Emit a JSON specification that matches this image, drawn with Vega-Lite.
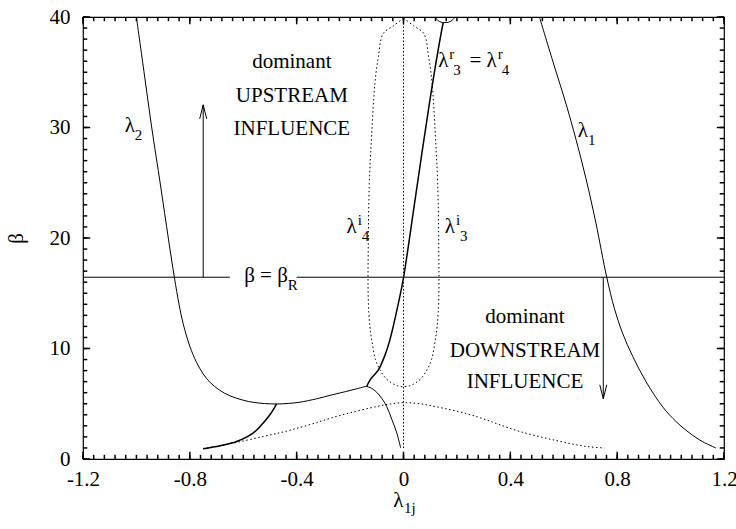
{
  "$schema": "https://vega.github.io/schema/vega-lite/v6.json",
  "width": 641,
  "height": 442,
  "autosize": {"type": "none"},
  "padding": {"left": 83, "top": 17, "right": 12, "bottom": 70},
  "background": "white",
  "config": {
    "view": {"stroke": "black", "strokeWidth": 1.2},
    "font": "Liberation Serif",
    "axis": {
      "labelFont": "Liberation Serif",
      "titleFont": "Liberation Serif",
      "labelColor": "black",
      "titleColor": "black",
      "ticks": false,
      "grid": false,
      "domain": false,
      "labelFlush": false,
      "labelOverlap": false,
      "labelBound": false,
      "titleFontWeight": "normal",
      "titlePadding": 0
    }
  },
  "resolve": {"axis": {"x": "independent", "y": "independent"}},
  "datasets": {
    "thin": [
      {"s": "l2", "x": -1.0, "y": 40},
      {"s": "l2", "x": -0.97, "y": 34.75},
      {"s": "l2", "x": -0.943, "y": 30.05},
      {"s": "l2", "x": -0.91, "y": 24.8},
      {"s": "l2", "x": -0.88, "y": 19.9},
      {"s": "l2", "x": -0.858, "y": 16.45},
      {"s": "l2", "x": -0.84, "y": 13.95},
      {"s": "l2", "x": -0.825, "y": 12.25},
      {"s": "l2", "x": -0.8, "y": 10.2},
      {"s": "l2", "x": -0.775, "y": 8.75},
      {"s": "l2", "x": -0.75, "y": 7.7},
      {"s": "l2", "x": -0.725, "y": 6.95},
      {"s": "l2", "x": -0.69, "y": 6.25},
      {"s": "l2", "x": -0.65, "y": 5.72},
      {"s": "l2", "x": -0.6, "y": 5.32},
      {"s": "l2", "x": -0.563, "y": 5.13},
      {"s": "l2", "x": -0.52, "y": 5.02},
      {"s": "l2", "x": -0.475, "y": 4.98},
      {"s": "l2", "x": -0.43, "y": 5.03},
      {"s": "l2", "x": -0.388, "y": 5.14},
      {"s": "l2", "x": -0.325, "y": 5.45},
      {"s": "l2", "x": -0.275, "y": 5.76},
      {"s": "l2", "x": -0.2, "y": 6.2},
      {"s": "l2", "x": -0.16, "y": 6.45},
      {"s": "l2", "x": -0.138, "y": 6.56},
      {"s": "l2", "x": -0.113, "y": 6.3},
      {"s": "l2", "x": -0.088, "y": 5.7},
      {"s": "l2", "x": -0.063, "y": 4.75},
      {"s": "l2", "x": -0.044, "y": 3.6},
      {"s": "l2", "x": -0.025, "y": 2.35},
      {"s": "l2", "x": -0.0105, "y": 0.99},
      {"s": "l1", "x": 0.509, "y": 40},
      {"s": "l1", "x": 0.559, "y": 36.0},
      {"s": "l1", "x": 0.609, "y": 32.1},
      {"s": "l1", "x": 0.646, "y": 28.9},
      {"s": "l1", "x": 0.683, "y": 25.4},
      {"s": "l1", "x": 0.72, "y": 21.4},
      {"s": "l1", "x": 0.761, "y": 16.44},
      {"s": "l1", "x": 0.79, "y": 13.6},
      {"s": "l1", "x": 0.82, "y": 11.4},
      {"s": "l1", "x": 0.858, "y": 9.3},
      {"s": "l1", "x": 0.908, "y": 7.0},
      {"s": "l1", "x": 0.971, "y": 4.7},
      {"s": "l1", "x": 1.02, "y": 3.4},
      {"s": "l1", "x": 1.058, "y": 2.6},
      {"s": "l1", "x": 1.11, "y": 1.7},
      {"s": "l1", "x": 1.17, "y": 0.99},
      {"s": "arc", "x": 0.118, "y": 40},
      {"s": "arc", "x": 0.128, "y": 39.7},
      {"s": "arc", "x": 0.142, "y": 39.52},
      {"s": "arc", "x": 0.155, "y": 39.5},
      {"s": "arc", "x": 0.168, "y": 39.52},
      {"s": "arc", "x": 0.182, "y": 39.7},
      {"s": "arc", "x": 0.193, "y": 40},
      {"s": "betaR_left", "x": -1.2, "y": 16.45},
      {"s": "betaR_left", "x": -0.65, "y": 16.45},
      {"s": "betaR_right", "x": -0.4, "y": 16.45},
      {"s": "betaR_right", "x": 1.2, "y": 16.45},
      {"s": "arrow_up", "x": -0.75, "y": 16.45},
      {"s": "arrow_up", "x": -0.75, "y": 32.05},
      {"s": "arrow_down", "x": 0.748, "y": 16.45},
      {"s": "arrow_down", "x": 0.748, "y": 5.45}
    ],
    "thick": [
      {"s": "lowleft", "x": -0.75, "y": 0.93},
      {"s": "lowleft", "x": -0.687, "y": 1.2},
      {"s": "lowleft", "x": -0.625, "y": 1.59},
      {"s": "lowleft", "x": -0.563, "y": 2.35},
      {"s": "lowleft", "x": -0.537, "y": 2.95},
      {"s": "lowleft", "x": -0.5, "y": 4.0},
      {"s": "lowleft", "x": -0.475, "y": 4.98},
      {"s": "l3r", "x": -0.138, "y": 6.56},
      {"s": "l3r", "x": -0.125, "y": 7.16},
      {"s": "l3r", "x": -0.094, "y": 8.07},
      {"s": "l3r", "x": -0.069, "y": 9.42},
      {"s": "l3r", "x": -0.051, "y": 10.78},
      {"s": "l3r", "x": -0.016, "y": 14.45},
      {"s": "l3r", "x": 0, "y": 16.4},
      {"s": "l3r", "x": 0.043, "y": 23.4},
      {"s": "l3r", "x": 0.099, "y": 32.5},
      {"s": "l3r", "x": 0.143, "y": 38.8},
      {"s": "l3r", "x": 0.149, "y": 39.5}
    ],
    "imag": [
      {"x": 0, "y": 39.9},
      {"x": -0.038, "y": 39.2},
      {"x": -0.076, "y": 38.5},
      {"x": -0.094, "y": 36.4},
      {"x": -0.107, "y": 34.0},
      {"x": -0.119, "y": 29.4},
      {"x": -0.128, "y": 24.9},
      {"x": -0.132, "y": 19.2},
      {"x": -0.132, "y": 14.5},
      {"x": -0.126, "y": 12.0},
      {"x": -0.119, "y": 10.78},
      {"x": -0.105, "y": 9.0},
      {"x": -0.088, "y": 8.07},
      {"x": -0.066, "y": 7.3},
      {"x": -0.044, "y": 6.87},
      {"x": -0.022, "y": 6.62},
      {"x": 0, "y": 6.56},
      {"x": 0.022, "y": 6.62},
      {"x": 0.044, "y": 6.87},
      {"x": 0.066, "y": 7.3},
      {"x": 0.088, "y": 8.07},
      {"x": 0.105, "y": 9.0},
      {"x": 0.119, "y": 10.78},
      {"x": 0.126, "y": 12.0},
      {"x": 0.132, "y": 14.5},
      {"x": 0.132, "y": 19.2},
      {"x": 0.128, "y": 24.9},
      {"x": 0.119, "y": 29.4},
      {"x": 0.107, "y": 34.0},
      {"x": 0.094, "y": 36.4},
      {"x": 0.076, "y": 38.5},
      {"x": 0.038, "y": 39.2},
      {"x": 0, "y": 39.9}
    ],
    "lower": [
      {"x": -0.75, "y": 0.95},
      {"x": -0.687, "y": 1.2},
      {"x": -0.625, "y": 1.5},
      {"x": -0.525, "y": 2.04},
      {"x": -0.45, "y": 2.45},
      {"x": -0.388, "y": 2.85},
      {"x": -0.325, "y": 3.3},
      {"x": -0.275, "y": 3.68},
      {"x": -0.2, "y": 4.18},
      {"x": -0.1, "y": 4.75},
      {"x": -0.05, "y": 4.98},
      {"x": 0, "y": 5.1},
      {"x": 0.06, "y": 5.0},
      {"x": 0.124, "y": 4.72},
      {"x": 0.237, "y": 4.1},
      {"x": 0.309, "y": 3.55},
      {"x": 0.355, "y": 3.15},
      {"x": 0.434, "y": 2.5},
      {"x": 0.559, "y": 1.74},
      {"x": 0.683, "y": 1.14},
      {"x": 0.752, "y": 1.0}
    ],
    "axis0": [
      {"x": 0, "y": 0.99},
      {"x": 0, "y": 40}
    ],
    "heads": [
      {"dir": "up", "x": -0.75, "y": 32.05},
      {"dir": "down", "x": 0.748, "y": 5.45}
    ],
    "blocks": [
      {"x": -0.418, "y": 35.35, "t": "dominant"},
      {"x": -0.418, "y": 32.3, "t": "UPSTREAM"},
      {"x": -0.418, "y": 29.3, "t": "INFLUENCE"},
      {"x": 0.455, "y": 12.28, "t": "dominant"},
      {"x": 0.455, "y": 9.27, "t": "DOWNSTREAM"},
      {"x": 0.455, "y": 6.41, "t": "INFLUENCE"}
    ],
    "labels": [
      {"x": -1.006, "y": 29.6, "base": "λ", "sup": "", "sub": "2"},
      {"x": 0.691, "y": 29.15, "base": "λ", "sup": "", "sub": "1"},
      {"x": -0.175, "y": 20.42, "base": "λ", "sup": "i", "sub": "4"},
      {"x": 0.193, "y": 20.42, "base": "λ", "sup": "i", "sub": "3"},
      {"x": 0.168, "y": 35.47, "base": "λ", "sup": "r", "sub": "3"},
      {"x": 0.349, "y": 35.47, "base": "= λ", "sup": "r", "sub": "4"},
      {"x": -0.433, "y": 16.0, "base": "β = β", "sup": "", "sub": "R"}
    ],
    "xAll": [
      {"v": -1.2}, {"v": -1.16}, {"v": -1.12}, {"v": -1.08}, {"v": -1.04}, {"v": -1.0}, {"v": -0.96}, {"v": -0.92}, {"v": -0.88}, {"v": -0.84},
      {"v": -0.8}, {"v": -0.76}, {"v": -0.72}, {"v": -0.68}, {"v": -0.64}, {"v": -0.6}, {"v": -0.56}, {"v": -0.52}, {"v": -0.48}, {"v": -0.44},
      {"v": -0.4}, {"v": -0.36}, {"v": -0.32}, {"v": -0.28}, {"v": -0.24}, {"v": -0.2}, {"v": -0.16}, {"v": -0.12}, {"v": -0.08}, {"v": -0.04},
      {"v": 0}, {"v": 0.04}, {"v": 0.08}, {"v": 0.12}, {"v": 0.16}, {"v": 0.2}, {"v": 0.24}, {"v": 0.28}, {"v": 0.32}, {"v": 0.36},
      {"v": 0.4}, {"v": 0.44}, {"v": 0.48}, {"v": 0.52}, {"v": 0.56}, {"v": 0.6}, {"v": 0.64}, {"v": 0.68}, {"v": 0.72}, {"v": 0.76},
      {"v": 0.8}, {"v": 0.84}, {"v": 0.88}, {"v": 0.92}, {"v": 0.96}, {"v": 1.0}, {"v": 1.04}, {"v": 1.08}, {"v": 1.12}, {"v": 1.16}, {"v": 1.2}
    ],
    "xMajor": [
      {"v": -1.2}, {"v": -0.8}, {"v": -0.4}, {"v": 0}, {"v": 0.4}, {"v": 0.8}, {"v": 1.2}
    ],
    "yAll": [
      {"v": 0}, {"v": 1}, {"v": 2}, {"v": 3}, {"v": 4}, {"v": 5}, {"v": 6}, {"v": 7}, {"v": 8}, {"v": 9},
      {"v": 10}, {"v": 11}, {"v": 12}, {"v": 13}, {"v": 14}, {"v": 15}, {"v": 16}, {"v": 17}, {"v": 18}, {"v": 19},
      {"v": 20}, {"v": 21}, {"v": 22}, {"v": 23}, {"v": 24}, {"v": 25}, {"v": 26}, {"v": 27}, {"v": 28}, {"v": 29},
      {"v": 30}, {"v": 31}, {"v": 32}, {"v": 33}, {"v": 34}, {"v": 35}, {"v": 36}, {"v": 37}, {"v": 38}, {"v": 39}, {"v": 40}
    ],
    "yMajor": [
      {"v": 0}, {"v": 10}, {"v": 20}, {"v": 30}, {"v": 40}
    ]
  },
  "layer": [
    {
      "data": {"name": "thin"},
      "mark": {"type": "line", "color": "black", "strokeWidth": 1, "interpolate": "catmull-rom"},
      "encoding": {
        "x": {
          "field": "x", "type": "quantitative",
          "scale": {"domain": [-1.2, 1.2], "nice": false, "zero": false},
          "axis": {
            "orient": "bottom",
            "values": [-1.2, -0.8, -0.4, 0, 0.4, 0.8, 1.2],
            "labelFontSize": 21,
            "labelPadding": 9,
            "labelExpr": "datum.value == 0 ? '0' : (datum.value < 0 ? '-' + format(-datum.value, '.1f') : format(datum.value, '.1f'))",
            "title": "λ",
            "titleFontSize": 21,
            "titleAlign": "right",
            "titleBaseline": "alphabetic",
            "titleX": 320,
            "titleY": 47
          }
        },
        "y": {
          "field": "y", "type": "quantitative",
          "scale": {"domain": [0, 40], "nice": false, "zero": false},
          "axis": {
            "orient": "left",
            "values": [0, 10, 20, 30, 40],
            "labelFontSize": 21,
            "labelPadding": 13,
            "format": "d",
            "title": "β",
            "titleFontSize": 21,
            "titleAngle": -90,
            "titleAlign": "center",
            "titleBaseline": "alphabetic",
            "titleX": -61,
            "titleY": 221
          }
        },
        "detail": {"field": "s"},
        "order": {"value": null}
      }
    },
    {
      "data": {"name": "thick"},
      "mark": {"type": "line", "color": "black", "strokeWidth": 1.5, "interpolate": "catmull-rom"},
      "encoding": {
        "x": {
          "field": "x", "type": "quantitative",
          "scale": {"domain": [-1.2, 1.2], "nice": false, "zero": false},
          "axis": {
            "orient": "bottom",
            "values": [0],
            "labels": false,
            "title": "1j",
            "titleFontSize": 15,
            "titleAlign": "left",
            "titleBaseline": "alphabetic",
            "titleX": 320.5,
            "titleY": 53
          }
        },
        "y": {"field": "y", "type": "quantitative", "scale": {"domain": [0, 40], "nice": false, "zero": false}, "axis": null},
        "detail": {"field": "s"},
        "order": {"value": null}
      }
    },
    {
      "data": {"name": "imag"},
      "mark": {"type": "line", "color": "black", "strokeWidth": 1, "strokeDash": [1.5, 2.5], "interpolate": "catmull-rom"},
      "encoding": {
        "x": {"field": "x", "type": "quantitative", "scale": {"domain": [-1.2, 1.2], "nice": false, "zero": false}, "axis": null},
        "y": {"field": "y", "type": "quantitative", "scale": {"domain": [0, 40], "nice": false, "zero": false}, "axis": null},
        "order": {"value": null}
      }
    },
    {
      "data": {"name": "lower"},
      "mark": {"type": "line", "color": "black", "strokeWidth": 1, "strokeDash": [1.5, 2.5], "interpolate": "catmull-rom"},
      "encoding": {
        "x": {"field": "x", "type": "quantitative", "scale": {"domain": [-1.2, 1.2], "nice": false, "zero": false}, "axis": null},
        "y": {"field": "y", "type": "quantitative", "scale": {"domain": [0, 40], "nice": false, "zero": false}, "axis": null},
        "order": {"value": null}
      }
    },
    {
      "data": {"name": "axis0"},
      "mark": {"type": "line", "color": "black", "strokeWidth": 1, "strokeDash": [1.5, 2]},
      "encoding": {
        "x": {"field": "x", "type": "quantitative", "scale": {"domain": [-1.2, 1.2], "nice": false, "zero": false}, "axis": null},
        "y": {"field": "y", "type": "quantitative", "scale": {"domain": [0, 40], "nice": false, "zero": false}, "axis": null},
        "order": {"value": null}
      }
    },
    {
      "data": {"name": "xAll"},
      "mark": {"type": "rule", "color": "black", "strokeWidth": 1.5},
      "encoding": {
        "x": {"field": "v", "type": "quantitative", "scale": {"domain": [-1.2, 1.2], "nice": false, "zero": false}, "axis": null},
        "y": {"datum": 0, "type": "quantitative", "scale": {"domain": [0, 40], "nice": false, "zero": false}, "axis": null},
        "y2": {"datum": 0.38}
      }
    },
    {
      "data": {"name": "xAll"},
      "mark": {"type": "rule", "color": "black", "strokeWidth": 1.5},
      "encoding": {
        "x": {"field": "v", "type": "quantitative", "scale": {"domain": [-1.2, 1.2], "nice": false, "zero": false}, "axis": null},
        "y": {"datum": 40, "type": "quantitative", "scale": {"domain": [0, 40], "nice": false, "zero": false}, "axis": null},
        "y2": {"datum": 39.62}
      }
    },
    {
      "data": {"name": "xMajor"},
      "mark": {"type": "rule", "color": "black", "strokeWidth": 1.5},
      "encoding": {
        "x": {"field": "v", "type": "quantitative", "scale": {"domain": [-1.2, 1.2], "nice": false, "zero": false}, "axis": null},
        "y": {"datum": 0, "type": "quantitative", "scale": {"domain": [0, 40], "nice": false, "zero": false}, "axis": null},
        "y2": {"datum": 0.66}
      }
    },
    {
      "data": {"name": "xMajor"},
      "mark": {"type": "rule", "color": "black", "strokeWidth": 1.5},
      "encoding": {
        "x": {"field": "v", "type": "quantitative", "scale": {"domain": [-1.2, 1.2], "nice": false, "zero": false}, "axis": null},
        "y": {"datum": 40, "type": "quantitative", "scale": {"domain": [0, 40], "nice": false, "zero": false}, "axis": null},
        "y2": {"datum": 39.34}
      }
    },
    {
      "data": {"name": "yAll"},
      "mark": {"type": "rule", "color": "black", "strokeWidth": 1.5},
      "encoding": {
        "x": {"datum": -1.2, "type": "quantitative", "scale": {"domain": [-1.2, 1.2], "nice": false, "zero": false}, "axis": null},
        "x2": {"datum": -1.184},
        "y": {"field": "v", "type": "quantitative", "scale": {"domain": [0, 40], "nice": false, "zero": false}, "axis": null}
      }
    },
    {
      "data": {"name": "yAll"},
      "mark": {"type": "rule", "color": "black", "strokeWidth": 1.5},
      "encoding": {
        "x": {"datum": 1.2, "type": "quantitative", "scale": {"domain": [-1.2, 1.2], "nice": false, "zero": false}, "axis": null},
        "x2": {"datum": 1.184},
        "y": {"field": "v", "type": "quantitative", "scale": {"domain": [0, 40], "nice": false, "zero": false}, "axis": null}
      }
    },
    {
      "data": {"name": "yMajor"},
      "mark": {"type": "rule", "color": "black", "strokeWidth": 1.5},
      "encoding": {
        "x": {"datum": -1.2, "type": "quantitative", "scale": {"domain": [-1.2, 1.2], "nice": false, "zero": false}, "axis": null},
        "x2": {"datum": -1.173},
        "y": {"field": "v", "type": "quantitative", "scale": {"domain": [0, 40], "nice": false, "zero": false}, "axis": null}
      }
    },
    {
      "data": {"name": "yMajor"},
      "mark": {"type": "rule", "color": "black", "strokeWidth": 1.5},
      "encoding": {
        "x": {"datum": 1.2, "type": "quantitative", "scale": {"domain": [-1.2, 1.2], "nice": false, "zero": false}, "axis": null},
        "x2": {"datum": 1.173},
        "y": {"field": "v", "type": "quantitative", "scale": {"domain": [0, 40], "nice": false, "zero": false}, "axis": null}
      }
    },
    {
      "data": {"name": "heads"},
      "mark": {"type": "point", "filled": false, "stroke": "black", "strokeWidth": 1, "size": 196, "opacity": 1},
      "encoding": {
        "x": {"field": "x", "type": "quantitative", "scale": {"domain": [-1.2, 1.2], "nice": false, "zero": false}, "axis": null},
        "y": {"field": "y", "type": "quantitative", "scale": {"domain": [0, 40], "nice": false, "zero": false}, "axis": null},
        "shape": {
          "field": "dir", "type": "nominal", "legend": null,
          "scale": {"domain": ["up", "down"], "range": ["M-0.5,2L0,0L0.5,2", "M-0.5,-2L0,0L0.5,-2"]}
        }
      }
    },
    {
      "data": {"name": "blocks"},
      "mark": {"type": "text", "font": "Liberation Serif", "fontSize": 21, "align": "center", "baseline": "alphabetic", "color": "black"},
      "encoding": {
        "x": {"field": "x", "type": "quantitative", "scale": {"domain": [-1.2, 1.2], "nice": false, "zero": false}, "axis": null},
        "y": {"field": "y", "type": "quantitative", "scale": {"domain": [0, 40], "nice": false, "zero": false}, "axis": null},
        "text": {"field": "t", "type": "nominal"}
      }
    },
    {
      "data": {"name": "labels"},
      "mark": {"type": "text", "font": "Liberation Serif", "fontSize": 21, "align": "right", "baseline": "alphabetic", "color": "black"},
      "encoding": {
        "x": {"field": "x", "type": "quantitative", "scale": {"domain": [-1.2, 1.2], "nice": false, "zero": false}, "axis": null},
        "y": {"field": "y", "type": "quantitative", "scale": {"domain": [0, 40], "nice": false, "zero": false}, "axis": null},
        "text": {"field": "base", "type": "nominal"}
      }
    },
    {
      "data": {"name": "labels"},
      "transform": [{"filter": "datum.sup != ''"}],
      "mark": {"type": "text", "font": "Liberation Serif", "fontSize": 15, "align": "left", "baseline": "alphabetic", "dx": 1, "dy": -8, "color": "black"},
      "encoding": {
        "x": {"field": "x", "type": "quantitative", "scale": {"domain": [-1.2, 1.2], "nice": false, "zero": false}, "axis": null},
        "y": {"field": "y", "type": "quantitative", "scale": {"domain": [0, 40], "nice": false, "zero": false}, "axis": null},
        "text": {"field": "sup", "type": "nominal"}
      }
    },
    {
      "data": {"name": "labels"},
      "transform": [{"filter": "datum.sup == ''"}],
      "mark": {"type": "text", "font": "Liberation Serif", "fontSize": 15, "align": "left", "baseline": "alphabetic", "dx": 0, "dy": 8, "color": "black"},
      "encoding": {
        "x": {"field": "x", "type": "quantitative", "scale": {"domain": [-1.2, 1.2], "nice": false, "zero": false}, "axis": null},
        "y": {"field": "y", "type": "quantitative", "scale": {"domain": [0, 40], "nice": false, "zero": false}, "axis": null},
        "text": {"field": "sub", "type": "nominal"}
      }
    },
    {
      "data": {"name": "labels"},
      "transform": [{"filter": "datum.sup != ''"}],
      "mark": {"type": "text", "font": "Liberation Serif", "fontSize": 15, "align": "left", "baseline": "alphabetic", "dx": 5, "dy": 8, "color": "black"},
      "encoding": {
        "x": {"field": "x", "type": "quantitative", "scale": {"domain": [-1.2, 1.2], "nice": false, "zero": false}, "axis": null},
        "y": {"field": "y", "type": "quantitative", "scale": {"domain": [0, 40], "nice": false, "zero": false}, "axis": null},
        "text": {"field": "sub", "type": "nominal"}
      }
    }
  ]
}
